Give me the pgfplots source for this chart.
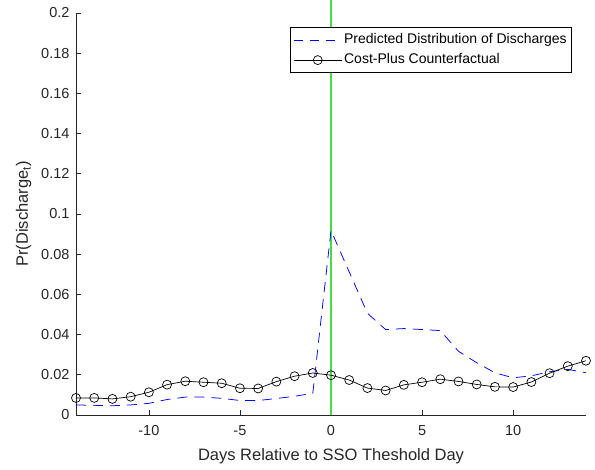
\documentclass[border=0pt]{standalone}
\usepackage{pgfplots}
\pgfplotsset{compat=1.18}
\usepackage{fontspec}
\setmainfont{Liberation Sans}
\definecolor{axgray}{gray}{0.15}
\definecolor{vgreen}{RGB}{70,220,70}
\begin{document}
\begin{tikzpicture}
\begin{axis}[
  name=ax,
  scale only axis,
  width=510pt, height=402pt,
  xmin=-14, xmax=14, ymin=0, ymax=0.2,
  axis x line=bottom, axis y line=left,
  axis line style={draw=axgray, line width=0.6pt, -},
  clip=false,
  xtick={-10,-5,0,5,10},
  ytick={0,0.02,0.04,0.06,0.08,0.1,0.12,0.14,0.16,0.18,0.2},
  yticklabel style={/pgf/number format/fixed, /pgf/number format/precision=2, xshift=-3pt},
  /pgf/number format/assume math mode=true,
  tick align=inside,
  major tick length=5pt,
  tick style={draw=axgray, line width=0.6pt},
  ticklabel style={font=\fontsize{14.5}{17}\selectfont, text=axgray},
  xticklabel style={yshift=-7pt},
  xlabel={Days Relative to SSO Theshold Day},
  ylabel={Pr(Discharge\textsubscript{t})},
  label style={font=\fontsize{16.5}{19}\selectfont, text=axgray},
  xlabel shift=6pt,
  ylabel shift=3pt,
  legend style={at={(0.9725,0.9644)}, anchor=north east, draw=black, line width=0.6pt,
    font=\fontsize{14}{16}\selectfont, row sep=3pt, inner xsep=3pt, inner ysep=4pt,
    nodes={inner sep=2pt, text height=10pt, text depth=3pt}},
  legend cell align=left,
]
\addplot[draw=vgreen, line width=1.2pt, forget plot] coordinates {(0,0) (0,0.2065)};
\addplot[draw=blue, line width=0.75pt, dash pattern=on 10pt off 7pt,
  legend image code/.code={\draw[draw=blue, line width=0.75pt, dash pattern=on 9pt off 7pt] plot coordinates {(0pt,0pt) (48pt,0pt)};}] coordinates {
(-14,0.0050) (-13,0.0048) (-12,0.0046) (-11,0.0050) (-10,0.0058)
(-9,0.0077) (-8,0.0089) (-7,0.0089) (-6,0.0083) (-5,0.0072)
(-4,0.0072) (-3,0.0082) (-2,0.0093) (-1,0.0108) (0,0.0918)
(1,0.0712) (2,0.0506) (3,0.0425) (4,0.0430) (5,0.0425)
(6,0.0420) (7,0.0317) (8,0.0260) (9,0.0210) (10,0.0185)
(11,0.0195) (12,0.0215) (13,0.0227) (14,0.0210)};
\addlegendentry{Predicted Distribution of Discharges}
\addplot[draw=black, line width=0.7pt, mark=o, mark size=4.5pt, mark options={draw=black, line width=0.7pt},
  legend image code/.code={\draw[draw=black, line width=0.7pt, mark=o, mark size=4.5pt, mark repeat=2, mark phase=2] plot coordinates {(0pt,0pt) (24pt,0pt) (48pt,0pt)};}] coordinates {
(-14,0.0085) (-13,0.0085) (-12,0.0080) (-11,0.0091) (-10,0.0113)
(-9,0.0151) (-8,0.0168) (-7,0.0163) (-6,0.0158) (-5,0.0133)
(-4,0.0132) (-3,0.0166) (-2,0.0193) (-1,0.0209) (0,0.0198)
(1,0.0174) (2,0.0134) (3,0.0122) (4,0.0150) (5,0.0163)
(6,0.0178) (7,0.0167) (8,0.0152) (9,0.0140) (10,0.0139)
(11,0.0164) (12,0.0208) (13,0.0243) (14,0.0270)};
\addlegendentry{Cost-Plus Counterfactual}
\end{axis}
\pgfresetboundingbox
\path ([shift={(-76pt,-55pt)}]ax.south west) rectangle ([shift={(9pt,13pt)}]ax.north east);
\end{tikzpicture}
\end{document}
